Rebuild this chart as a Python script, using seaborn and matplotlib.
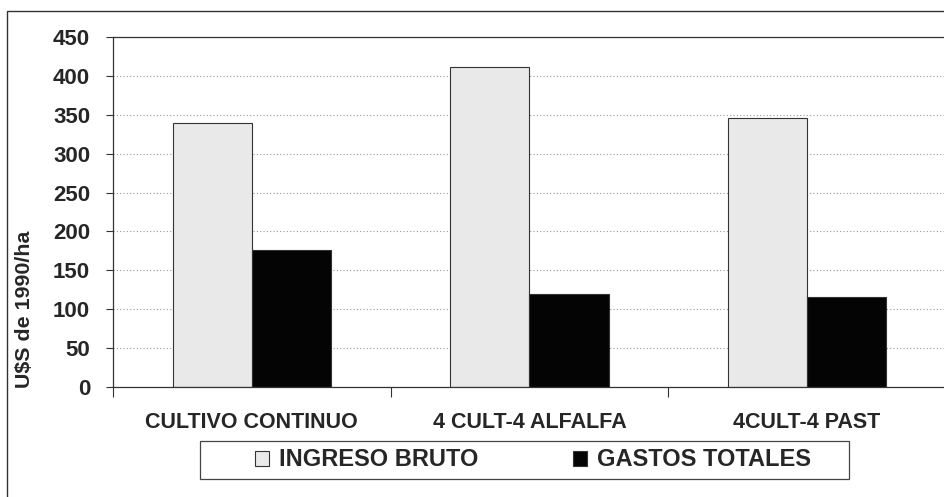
import matplotlib
matplotlib.use("Agg")
import matplotlib.pyplot as plt
import seaborn as sns
import pandas as pd
from matplotlib.patches import Rectangle, Patch

categories = ["CULTIVO CONTINUO", "4 CULT-4 ALFALFA", "4CULT-4 PAST"]
series_names = ["INGRESO BRUTO", "GASTOS TOTALES"]
ingreso_bruto = [340, 411, 346]
gastos_totales = [176, 120, 116]
yticks = [0, 50, 100, 150, 200, 250, 300, 350, 400, 450]

df = pd.DataFrame({
    "cat": categories * 2,
    "serie": [series_names[0]] * 3 + [series_names[1]] * 3,
    "val": ingreso_bruto + gastos_totales,
})

sns.set_style("white")
plt.rcParams["font.family"] = ["Liberation Sans", "DejaVu Sans"]
plt.rcParams["font.weight"] = "bold"

fig = plt.figure(figsize=(9.44, 4.97), dpi=100)
ax = fig.add_axes([113/944, 1 - 387/497, 1 - 113/944 + 0.002, 350/497])

colors = {"INGRESO BRUTO": "#e9e9e9", "GASTOS TOTALES": "#040404"}
sns.barplot(data=df, x="cat", y="val", hue="serie", palette=colors,
            order=categories, hue_order=series_names, width=0.57,
            edgecolor="#333333", linewidth=0.8, ax=ax, legend=False)

ax.set_ylim(0, 450)
ax.set_xlim(-0.5, 2.5)
ax.set_yticks(yticks)
ax.set_yticklabels([str(v) for v in yticks], fontsize=16, fontweight="bold")
ax.yaxis.grid(True, linestyle=(0, (1, 2)), color="#999999", linewidth=0.8)
ax.set_axisbelow(True)
ax.tick_params(axis="y", direction="out", length=5, width=0.8, pad=11.5, color="#333333", left=True)

ax.set_xticks(range(3))
ax.set_xticklabels(categories, fontsize=15.5, fontweight="bold")
ax.tick_params(axis="x", length=0, pad=18)
ax.set_xticks([-0.5, 0.5, 1.5, 2.5], minor=True)
ax.tick_params(axis="x", which="minor", direction="out", length=7, width=0.8, color="#333333", bottom=True)

ax.set_xlabel("")
ax.set_ylabel("")
fig.text(25/944, 1 - 309/497, "U$S de 1990/ha", rotation=90, ha="center", va="center",
         fontsize=15.4, fontweight="bold")

for side in ["left", "bottom", "top"]:
    ax.spines[side].set_visible(True)
    ax.spines[side].set_color("#333333")
    ax.spines[side].set_linewidth(0.9)
ax.spines["right"].set_visible(False)

handles = [Patch(facecolor=colors[s], edgecolor="#333333", linewidth=0.8, label=s) for s in series_names]
leg = fig.legend(handles=handles, loc="center", ncol=2,
                 bbox_to_anchor=(533/944, 1 - 460/497),
                 prop={"size": 17, "weight": "bold"}, frameon=False,
                 handlelength=0.6, handleheight=0.6, handletextpad=0.42,
                 columnspacing=4.0, borderpad=0, borderaxespad=0)

fig.patches.append(Rectangle((200/944, 1 - 479/497), 649/944, 38/497, transform=fig.transFigure,
                             fill=False, edgecolor="#444444", linewidth=0.9))
fig.patches.append(Rectangle((7/944, -0.1), 1.2, 1 - 11/497 + 0.1, transform=fig.transFigure,
                             fill=False, edgecolor="#333333", linewidth=1.0))

fig.savefig("out.png", dpi=100)
